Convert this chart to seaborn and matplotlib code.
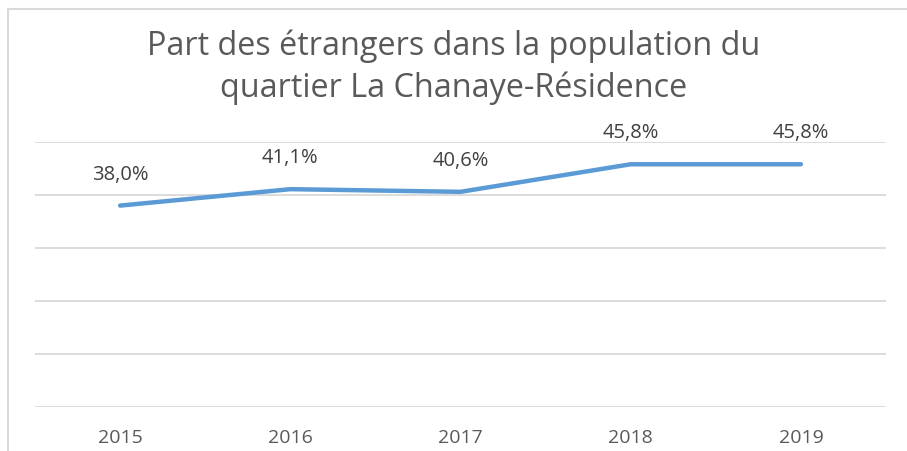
import matplotlib
matplotlib.use("Agg")
import matplotlib.pyplot as plt
import seaborn as sns
import pandas as pd
from matplotlib.patches import Rectangle

years = ["2015", "2016", "2017", "2018", "2019"]
values = [38.0, 41.1, 40.6, 45.8, 45.8]
labels = ["38,0%", "41,1%", "40,6%", "45,8%", "45,8%"]
title = "Part des étrangers dans la population du\nquartier La Chanaye-Résidence"

sns.set_theme(style="white")
plt.rcParams['font.family'] = ['Open Sans', 'DejaVu Sans']

df = pd.DataFrame({"year": years, "value": values})

fig = plt.figure(figsize=(9.07, 4.52), dpi=100)
ax = fig.add_axes([35/907, 1 - 408/452, (886-35)/907, (408-143)/452])

# outer border
fig.patches.append(Rectangle((8/907, -0.1), 1.1, 1 - 10/452 + 0.1, transform=fig.transFigure,
                             fill=False, edgecolor="#d9d9d9", linewidth=1.5))

sns.lineplot(data=df, x="year", y="value", ax=ax, color="#5B9BD5", linewidth=3.2,
             sort=False, solid_capstyle="round")

ax.set_ylim(0, 50)
ax.set_xlim(-0.5, 4.5)
ax.set_yticks([0, 10, 20, 30, 40, 50])
ax.set_yticklabels([])
ax.tick_params(axis="y", length=0)
ax.tick_params(axis="x", length=0, pad=15, labelsize=14, labelcolor="#595959")
ax.grid(axis="y", color="#d9d9d9", linewidth=1.3)
ax.set_axisbelow(True)
for s in ax.spines.values():
    s.set_visible(False)
ax.set_xlabel("")
ax.set_ylabel("")

for i, (v, lab) in enumerate(zip(values, labels)):
    ax.annotate(lab, (i, v), xytext=(0, 23), textcoords="offset points",
                ha="center", va="center", fontsize=14.5, color="#404040")

fig.text(0.5, 1 - 67/452, title, ha="center", va="center", fontsize=23.3,
         color="#595959", linespacing=1.35)

fig.savefig("out.png", dpi=100)
